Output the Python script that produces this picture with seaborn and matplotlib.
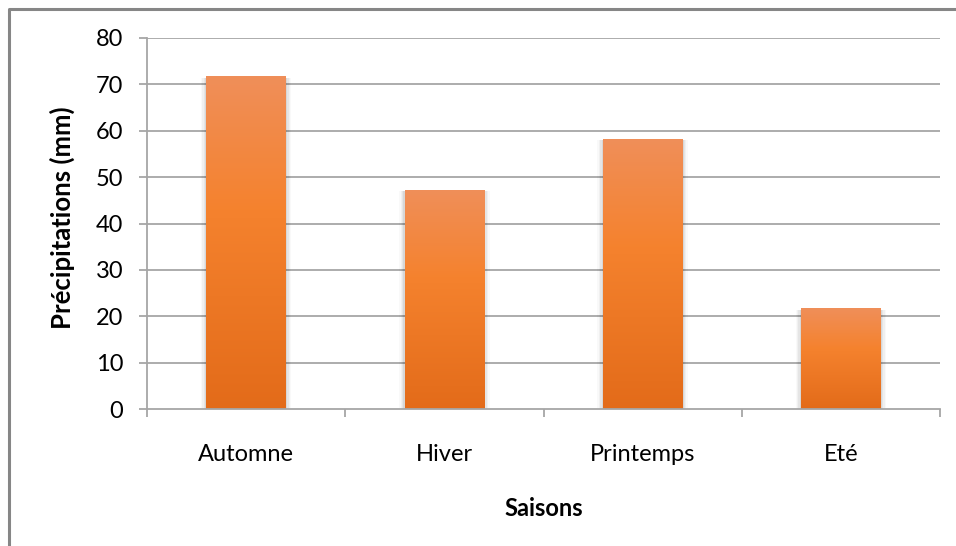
import numpy as np
import pandas as pd
import matplotlib
matplotlib.use("Agg")
import matplotlib.pyplot as plt
import seaborn as sns
from matplotlib.colors import LinearSegmentedColormap
from matplotlib.patches import Rectangle
from matplotlib.lines import Line2D

saisons = ["Automne", "Hiver", "Printemps", "Eté"]
precip = [71.7, 47.3, 58.3, 21.7]
yticks = [0, 10, 20, 30, 40, 50, 60, 70, 80]

sns.set_theme(style="white")
plt.rcParams["font.family"] = ["Lato", "DejaVu Sans"]

df = pd.DataFrame({"Saisons": saisons, "Precip": precip})

fig = plt.figure(figsize=(9.56, 5.46), dpi=100)
fig.patch.set_facecolor("white")
ax = fig.add_axes([147/956, 1-409/546, (940-147)/956, (409-38)/546])

sns.barplot(data=df, x="Saisons", y="Precip", color="#F58233", width=0.40,
            ax=ax, zorder=3, saturation=1)

ax.set_ylim(0, 80)
ax.set_xlim(-0.5, 3.5)
ax.set_yticks(yticks)
ax.set_yticklabels([str(t) for t in yticks])

# grid
for t in yticks[1:]:
    ax.axhline(t, color="#a6a6a6", lw=1.3, zorder=1)

# spines
for s in ["top", "right"]:
    ax.spines[s].set_visible(False)
ax.spines["left"].set_color("#a6a6a6")
ax.spines["left"].set_linewidth(1.3)
ax.spines["bottom"].set_color("#a6a6a6")
ax.spines["bottom"].set_linewidth(1.3)
ax.spines["bottom"].set_zorder(4)

# ticks
ax.tick_params(axis="y", which="major", length=6, width=1.3, color="#a6a6a6",
               pad=11, labelsize=17, labelcolor="black", left=True, direction="out")
ax.set_xticks(np.arange(-0.5, 4, 1.0), minor=True)
ax.tick_params(axis="x", which="minor", length=6, width=1.3, color="#a6a6a6",
               bottom=True, direction="out")
ax.tick_params(axis="x", which="major", length=0, pad=25, labelsize=17,
               labelcolor="black")

ax.set_xlabel("Saisons", fontsize=17, fontweight="bold", color="black")
ax.set_ylabel("Précipitations (mm)", fontsize=18.5, fontweight="bold", color="black")
ax.xaxis.label.set_va("center")
ax.yaxis.label.set_va("center")
ax.xaxis.set_label_coords(0.5, (409-508)/371)
ax.yaxis.set_label_coords((62-147)/793, 0.515)

# gradient bars with soft shadow
cmap = LinearSegmentedColormap.from_list(
    "og", [(0.0, (0.89, 0.42, 0.10)), (0.6, (0.96, 0.51, 0.18)),
           (1.0, (0.94, 0.56, 0.35))])
grad = np.linspace(0, 1, 256).reshape(-1, 1)
for p in list(ax.patches):
    x, y = p.get_x(), p.get_y()
    w, h = p.get_width(), p.get_height()
    for k, a in [(0.028, 0.025), (0.021, 0.035), (0.014, 0.045), (0.007, 0.06)]:
        ax.add_patch(Rectangle((x - k, y), w + 2*k, h - 0.3, facecolor="black",
                               alpha=a, edgecolor="none", zorder=2))
    im = ax.imshow(grad, extent=[x, x + w, y, y + h], origin="lower",
                   cmap=cmap, aspect="auto", zorder=3, interpolation="bilinear")
    im.set_clip_path(p)
    p.set_facecolor("none")
    p.set_edgecolor("none")
ax.set_xlim(-0.5, 3.5)
ax.set_ylim(0, 80)

# outer border (top and left visible)
fig.add_artist(Line2D([9/956, 9/956, 1.0], [0.0, 1-9/546, 1-9/546],
                      transform=fig.transFigure, color="#868686", lw=2.2))

fig.savefig("out.png", dpi=100)
